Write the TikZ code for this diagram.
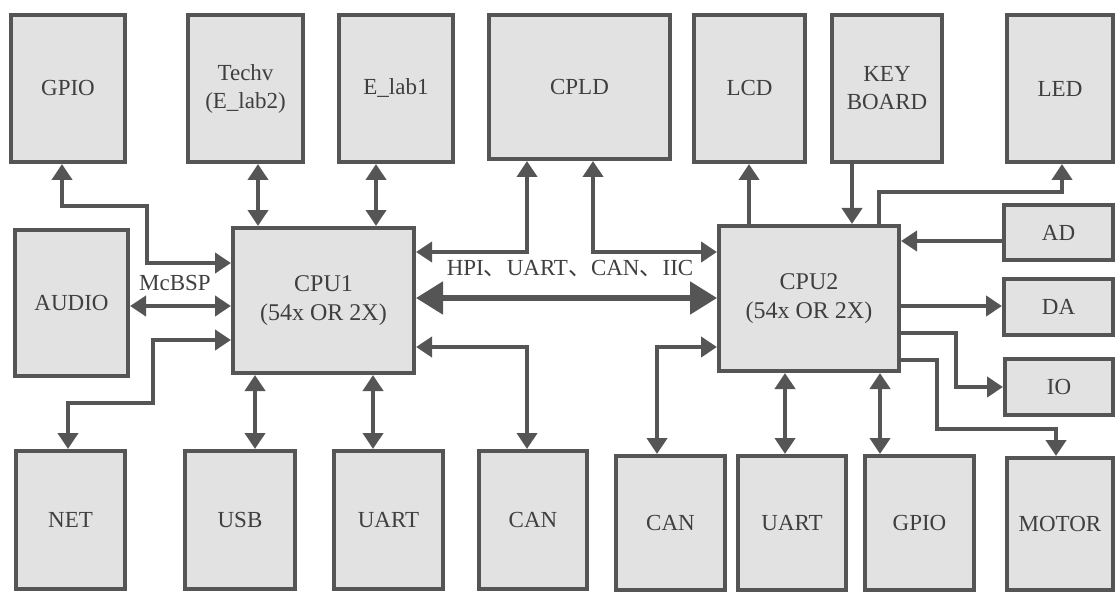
\documentclass[tikz,border=0pt]{standalone}
\usepackage{fontspec}
\setmainfont{Liberation Serif}
\newfontfamily\cjk{Noto Sans CJK SC}
\usetikzlibrary{arrows.meta}
\definecolor{boxgray}{HTML}{E2E2E2}
\definecolor{edgegray}{HTML}{555555}
\definecolor{textgray}{HTML}{3F3F3F}
\tikzset{
  unit/.style={draw=edgegray,fill=boxgray,line width=2pt,inner sep=0pt,
    align=center,text=textgray,font=\fontsize{11.5}{14}\selectfont},
  link/.style={draw=edgegray,line width=2.2pt},
  bus/.style={draw=edgegray,line width=2.6pt,>={Triangle[length=13.5pt,width=16pt]}}
}
\begin{document}
\begin{tikzpicture}[x=0.5pt,y=-0.5pt,>={Triangle[length=8pt,width=10pt]}]
  \useasboundingbox (0,0) rectangle (1117,593);
  % top row
  \node[unit,minimum width=57pt,minimum height=73.5pt] (gpioa) at (68,88.5) {GPIO};
  \node[unit,minimum width=57.5pt,minimum height=73.5pt] (techv) at (245.5,88.5) {Techv\\(E\_lab2)};
  \node[unit,minimum width=57pt,minimum height=73.5pt] (elab) at (396,88.5) {E\_lab1};
  \node[unit,minimum width=90.5pt,minimum height=72pt] (cpld) at (579.5,87) {CPLD};
  \node[unit,minimum width=55.5pt,minimum height=73.5pt] (lcd) at (749.5,88.5) {LCD};
  \node[unit,minimum width=55pt,minimum height=73.5pt] (key) at (887,88.5) {KEY\\BOARD};
  \node[unit,minimum width=53pt,minimum height=73.5pt] (led) at (1060,88.5) {LED};
  % middle row
  \node[unit,minimum width=56.5pt,minimum height=73pt] (audio) at (71.5,303) {AUDIO};
  \node[unit,minimum width=90.5pt,minimum height=72.5pt,font=\fontsize{12}{14.5}\selectfont]
    (cpua) at (323.5,300.5) {CPU1\\(54x OR 2X)};
  \node[unit,minimum width=90pt,minimum height=72.5pt,font=\fontsize{12}{14.5}\selectfont]
    (cpub) at (809,298.5) {CPU2\\(54x OR 2X)};
  \node[unit,minimum width=54.5pt,minimum height=27.5pt] (ad) at (1058.5,232.5) {AD};
  \node[unit,minimum width=54.5pt,minimum height=28pt] (da) at (1058.5,307) {DA};
  \node[unit,minimum width=54pt,minimum height=28pt] (io) at (1059,387) {IO};
  % bottom row
  \node[unit,minimum width=54.5pt,minimum height=69pt] (net) at (70.5,520) {NET};
  \node[unit,minimum width=55pt,minimum height=69pt] (usb) at (240,520) {USB};
  \node[unit,minimum width=54.5pt,minimum height=69pt] (uarta) at (388.5,520) {UART};
  \node[unit,minimum width=54pt,minimum height=69pt] (cana) at (533,520) {CAN};
  \node[unit,minimum width=54.5pt,minimum height=67pt] (canb) at (670.5,523) {CAN};
  \node[unit,minimum width=54pt,minimum height=67pt] (uartb) at (792,523) {UART};
  \node[unit,minimum width=54.5pt,minimum height=67pt] (gpiob) at (919.5,523) {GPIO};
  \node[unit,minimum width=53pt,minimum height=66pt] (motor) at (1060,524) {MOTOR};
  % CPU1 links
  \draw[link,<->] (gpioa.south -| 62,0) |- (147,206) |- (cpua.west |- 0,263);
  \draw[link,<->] (techv.south -| 258,0) -- (cpua.north -| 258,0);
  \draw[link,<->] (elab.south -| 376,0) -- (cpua.north -| 376,0);
  \draw[link,<->] (audio.east |- 0,306) -- (cpua.west |- 0,306);
  \node[text=textgray,font=\fontsize{11.5}{14}\selectfont] (mcbsp) at (175,283) {McBSP};
  \draw[link,<->] (cpua.west |- 0,340) -| (153,403) -| (net.north -| 68,0);
  \draw[link,<->] (usb.north -| 255,0) -- (cpua.south -| 255,0);
  \draw[link,<->] (uarta.north -| 373,0) -- (cpua.south -| 373,0);
  \draw[link,<->] (cpua.east |- 0,347) -| (cana.north -| 527,0);
  \draw[link,<->] (cpua.east |- 0,252) -| (cpld.south -| 527,0);
  % CPU2 links
  \draw[link,<->] (cpld.south -| 593,0) |- (cpub.west |- 0,252);
  \draw[bus,<->] (cpua.east |- 0,298) -- (cpub.west |- 0,298);
  \node[text=textgray,font=\fontsize{11.5}{14}\selectfont] (buslabel) at (570,269)
    {HPI{\cjk 、}UART{\cjk 、}CAN{\cjk 、}IIC};
  \draw[link,->] (cpub.north -| 749,0) -- (lcd.south -| 749,0);
  \draw[link,->] (key.south -| 852,0) -- (cpub.north -| 852,0);
  \draw[link,->] (cpub.north -| 879,0) |- (1062,192) -- (led.south -| 1062,0);
  \draw[link,->] (ad.west |- 0,241) -- (cpub.east |- 0,241);
  \draw[link,->] (cpub.east |- 0,306) -- (da.west |- 0,306);
  \draw[link,->] (cpub.east |- 0,333) -| (956,387) -- (io.west |- 0,387);
  \draw[link,->] (cpub.east |- 0,360) -| (937,429) -| (motor.north -| 1056,0);
  \draw[link,<->] (cpub.west |- 0,347) -| (canb.north -| 657,0);
  \draw[link,<->] (uartb.north -| 785,0) -- (cpub.south -| 785,0);
  \draw[link,<->] (gpiob.north -| 880,0) -- (cpub.south -| 880,0);
\end{tikzpicture}
\end{document}
